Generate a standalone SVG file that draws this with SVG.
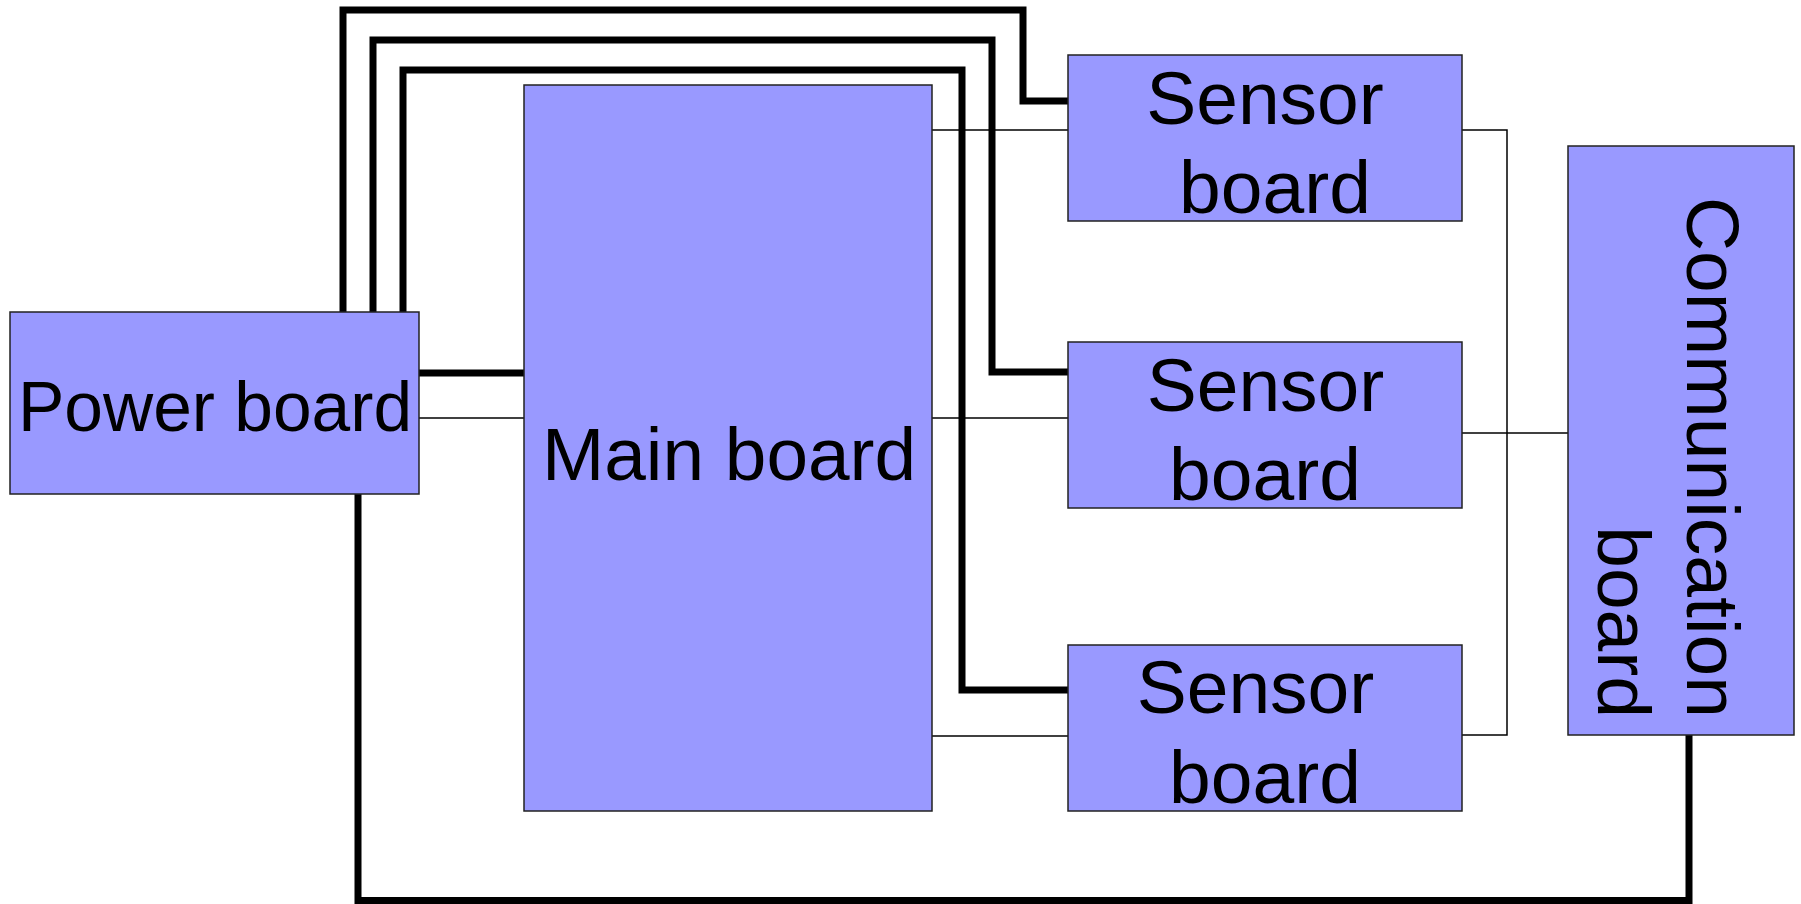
<svg xmlns="http://www.w3.org/2000/svg" width="1801" height="904" viewBox="0 0 1801 904">
<style>
.box{fill:#9999ff;stroke:#222;stroke-width:1.5}
.t{font-family:"Liberation Sans",Arial,sans-serif;fill:#000;text-anchor:middle}
.thick{fill:none;stroke:#000;stroke-width:7;stroke-linejoin:miter;stroke-linecap:butt}
.thin{fill:none;stroke:#000;stroke-width:1.5}
</style>
<rect width="1801" height="904" fill="#fff"/>
<g id="connectors">
<path class="thick" d="M343,312 V10 H1023 V101 H1068"/>
<path class="thick" d="M373,312 V40 H992 V372 H1068"/>
<path class="thick" d="M403,312 V70 H962 V690 H1068"/>
<path class="thick" d="M419,373 H524"/>
<path class="thick" d="M358,494 V900.5 H1689 V735"/>
<path class="thin" d="M419,418 H524"/>
<path class="thin" d="M932,130 H1068"/>
<path class="thin" d="M932,418 H1068"/>
<path class="thin" d="M932,736 H1068"/>
<path class="thin" d="M1462,130 H1507 V735 H1462"/>
<path class="thin" d="M1462,433 H1568"/>
</g>
<g id="power">
<rect class="box" x="10" y="312" width="409" height="182"/>
<text class="t" x="215" y="431" font-size="69.5">Power board</text>
</g>
<g id="main">
<rect class="box" x="524" y="85" width="408" height="726"/>
<text class="t" x="729" y="480" font-size="74.8">Main board</text>
</g>
<g id="sensor1">
<rect class="box" x="1068" y="55" width="394" height="166"/>
<text class="t" x="1265" y="124" font-size="75">Sensor</text>
<text class="t" x="1275" y="213" font-size="75">board</text>
</g>
<g id="sensor2">
<rect class="box" x="1068" y="342" width="394" height="166"/>
<text class="t" x="1265.5" y="411" font-size="75">Sensor</text>
<text class="t" x="1265" y="500" font-size="75">board</text>
</g>
<g id="sensor3">
<rect class="box" x="1068" y="645" width="394" height="166"/>
<text class="t" x="1255.5" y="713" font-size="75">Sensor</text>
<text class="t" x="1265" y="803" font-size="75">board</text>
</g>
<g id="communication">
<rect class="box" x="1568" y="146" width="226" height="589"/>
<text class="t" transform="translate(1687,718) rotate(90)" style="text-anchor:end" font-size="75">Communication</text>
<text class="t" transform="translate(1598,718) rotate(90)" style="text-anchor:end" font-size="75">board</text>
</g>
</svg>
